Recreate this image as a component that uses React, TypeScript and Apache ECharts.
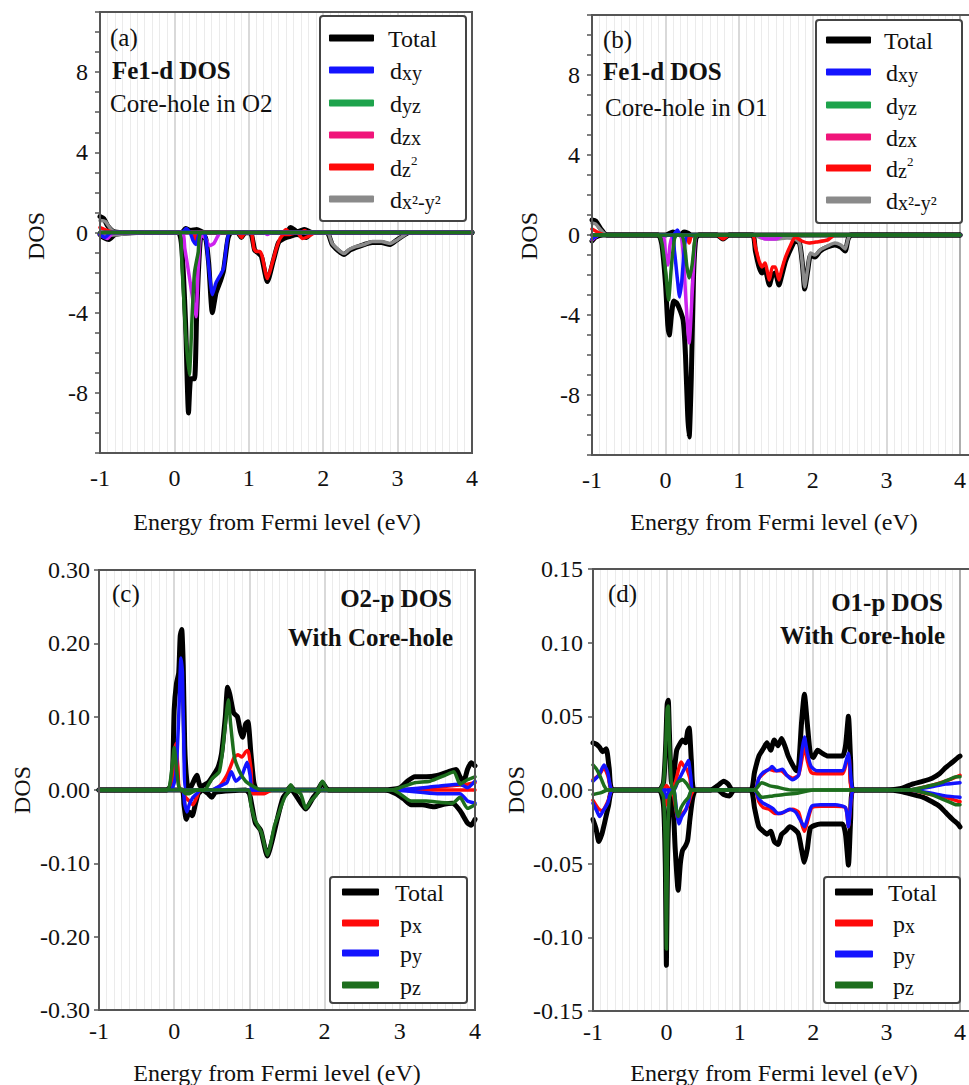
import React, { useEffect, useRef } from "react";
import * as echarts from "echarts";

const FONT = "'Liberation Serif','Times New Roman',serif";

// ---------- Panel (a): Fe1-d DOS, core-hole in O2 ----------
const aTotalUp = [[-1,0.8],[-0.95,0.7],[-0.9,0.35],[-0.82,0.05],[-0.7,0],[0.1,0],[0.15,0.2],[0.22,0.1],[0.3,0.15],[0.4,0],[1.5,0],[1.56,0.25],[1.65,0.05],[1.75,0.15],[1.85,0],[4,0]];
const aTotalDn = [[-1,-0.1],[-0.95,-0.25],[-0.88,-0.35],[-0.8,-0.1],[-0.7,-0.05],[-0.5,0],[0.05,0],[0.1,-0.8],[0.15,-4.5],[0.19,-9.0],[0.22,-7.3],[0.27,-7.3],[0.3,-4.0],[0.35,-0.3],[0.41,-0.2],[0.46,-1.5],[0.51,-4.0],[0.56,-3.0],[0.62,-2.4],[0.66,-1.9],[0.72,-0.3],[0.76,0],[0.85,0],[0.9,-0.25],[0.95,0],[1.03,-0.05],[1.08,-0.9],[1.12,-1.0],[1.17,-1.2],[1.25,-2.45],[1.33,-1.4],[1.4,-0.5],[1.47,-0.3],[1.55,-0.2],[1.65,-0.1],[1.77,-0.25],[1.85,0],[2.05,0],[2.12,-0.6],[2.2,-0.9],[2.28,-1.1],[2.35,-0.9],[2.44,-0.75],[2.55,-0.6],[2.66,-0.5],[2.78,-0.5],[2.9,-0.6],[2.98,-0.4],[3.1,-0.1],[3.15,0],[4,0]];
const aDxyUp = [[-1,0],[0.1,0],[0.16,0.2],[0.22,0],[4,0]];
const aDxyDn = [[-1,-0.1],[-0.93,-0.25],[-0.85,0],[0.2,0],[0.25,-0.4],[0.29,-0.6],[0.33,-0.1],[0.4,0],[0.43,-0.5],[0.47,-2.0],[0.51,-3.1],[0.56,-2.5],[0.62,-2.1],[0.66,-1.8],[0.71,-0.4],[0.75,0],[4,0]];
const aDyzUp = [[-1,0],[4,0]];
const aDyzDn = [[-1,0],[0.06,0],[0.1,-1.5],[0.15,-5.0],[0.2,-7.1],[0.24,-4.0],[0.27,-2.0],[0.32,-1.0],[0.37,0],[4,0]];
const aDzxUp = [[-1,0],[4,0]];
const aDzxDn = [[-1,-0.1],[-0.9,-0.3],[-0.82,0],[0.1,0],[0.14,-0.8],[0.2,-2.2],[0.25,-3.4],[0.29,-4.2],[0.32,-1.8],[0.36,-0.1],[0.42,-0.3],[0.47,-0.65],[0.53,-0.55],[0.58,-0.2],[0.62,0],[1.2,0],[1.25,-0.1],[1.3,0],[4,0]];
const aDz2Up = [[-1,0.25],[-0.9,0.1],[-0.8,0],[1.45,0],[1.5,0.15],[1.55,0],[1.7,0],[1.75,0.1],[1.8,0],[4,0]];
const aDz2Dn = [[-1,0],[0.25,0],[0.28,-0.4],[0.31,0],[0.85,0],[0.9,-0.25],[0.95,0],[1.03,0],[1.07,-0.8],[1.1,-0.95],[1.15,-0.95],[1.18,-1.2],[1.25,-2.3],[1.31,-1.6],[1.37,-0.8],[1.42,-0.3],[1.47,-0.1],[1.55,-0.1],[1.65,0],[1.72,-0.3],[1.8,-0.2],[1.9,0],[4,0]];
const aDx2Up = [[-1,0.6],[-0.93,0.55],[-0.85,0.15],[-0.78,0],[4,0]];
const aDx2Dn = [[-1,0],[-0.9,-0.15],[-0.75,-0.1],[-0.6,-0.05],[-0.4,0],[2.05,0],[2.12,-0.55],[2.2,-0.85],[2.28,-1.05],[2.35,-0.85],[2.44,-0.7],[2.55,-0.6],[2.66,-0.45],[2.78,-0.45],[2.9,-0.55],[2.98,-0.4],[3.1,-0.1],[3.15,0],[4,0]];

// ---------- Panel (b): Fe1-d DOS, core-hole in O1 ----------
const bTotalUp = [[-1,0.75],[-0.95,0.7],[-0.88,0.3],[-0.8,0],[0.0,0],[0.1,0.15],[0.2,0],[0.25,0.15],[0.3,0.1],[0.35,0],[4,0]];
const bTotalDn = [[-1,-0.3],[-0.95,-0.1],[-0.85,0],[-0.1,0],[-0.05,-0.5],[0.0,-2.5],[0.03,-4.5],[0.05,-5.0],[0.08,-4.0],[0.11,-3.3],[0.15,-3.4],[0.2,-3.8],[0.24,-4.3],[0.27,-6.0],[0.3,-9.0],[0.32,-10.1],[0.35,-7.0],[0.38,-2.0],[0.41,-0.2],[0.45,0],[0.7,0],[0.78,-0.2],[0.86,0],[1.18,0],[1.22,-0.8],[1.27,-1.6],[1.31,-1.9],[1.35,-1.7],[1.41,-2.5],[1.45,-2.0],[1.49,-1.9],[1.54,-2.5],[1.58,-2.0],[1.63,-1.3],[1.7,-0.7],[1.76,-0.3],[1.82,-0.4],[1.86,-1.5],[1.89,-2.7],[1.93,-1.8],[1.97,-1.0],[2.03,-1.1],[2.1,-0.8],[2.2,-0.6],[2.3,-0.5],[2.38,-0.6],[2.44,-0.8],[2.48,-0.2],[2.52,0],[4,0]];
const bDxyUp = [[-1,0],[0.1,0],[0.16,0.25],[0.2,0],[4,0]];
const bDxyDn = [[-1,-0.2],[-0.9,0],[0.08,0],[0.12,-0.8],[0.16,-2.2],[0.19,-3.1],[0.22,-2.3],[0.26,-0.5],[0.3,0],[4,0]];
const bDyzUp = [[-1,0],[4,0]];
const bDyzDn = [[-1,0],[-0.1,0],[-0.05,-0.4],[0.0,-1.8],[0.04,-3.25],[0.08,-1.5],[0.12,-0.2],[0.15,0],[0.22,0],[0.26,-0.6],[0.29,-1.6],[0.32,-2.15],[0.36,-1.5],[0.4,-0.2],[0.43,0],[4,0]];
const bDzxUp = [[-1,0],[4,0]];
const bDzxDn = [[-1,-0.25],[-0.9,0],[-0.05,0],[0.0,-1.0],[0.03,-1.5],[0.06,-0.5],[0.1,0],[0.2,0],[0.24,-1.0],[0.28,-3.5],[0.32,-5.4],[0.36,-3.0],[0.4,-0.3],[0.43,0],[1.25,0],[1.35,-0.2],[1.5,-0.2],[1.6,0],[4,0]];
const bDz2Up = [[-1,0.3],[-0.9,0.1],[-0.8,0],[4,0]];
const bDz2Dn = [[-1,0],[0.28,0],[0.32,-0.4],[0.36,0],[0.7,0],[0.78,-0.2],[0.86,0],[1.18,0],[1.22,-0.6],[1.27,-1.3],[1.31,-1.6],[1.35,-1.4],[1.41,-2.25],[1.45,-1.6],[1.49,-1.6],[1.54,-2.25],[1.58,-1.7],[1.63,-1.1],[1.7,-0.5],[1.76,-0.1],[1.85,-0.3],[1.95,-0.4],[2.05,-0.35],[2.2,-0.25],[2.3,0],[4,0]];
const bDx2Up = [[-1,0.6],[-0.95,0.55],[-0.88,0.25],[-0.8,0],[4,0]];
const bDx2Dn = [[-1,0],[1.2,0],[1.3,-0.15],[1.5,-0.2],[1.65,-0.15],[1.76,-0.2],[1.82,-0.4],[1.86,-1.5],[1.89,-2.6],[1.93,-1.7],[1.97,-0.9],[2.03,-1.0],[2.1,-0.75],[2.2,-0.55],[2.3,-0.4],[2.38,-0.5],[2.44,-0.7],[2.48,-0.2],[2.52,0],[4,0]];

// ---------- Panel (c): O2-p DOS with core-hole ----------
const cTotalUp = [[-1,0],[-0.1,0],[-0.05,0.005],[-0.02,0.03],[0.0,0.11],[0.03,0.145],[0.06,0.16],[0.08,0.21],[0.1,0.219],[0.12,0.17],[0.14,0.06],[0.17,0.01],[0.2,0.0],[0.25,0.01],[0.3,0.02],[0.35,0.005],[0.45,0.01],[0.52,0.02],[0.58,0.03],[0.63,0.05],[0.68,0.1],[0.71,0.14],[0.74,0.13],[0.79,0.105],[0.84,0.1],[0.88,0.08],[0.91,0.072],[0.95,0.09],[0.98,0.093],[1.02,0.05],[1.06,0.01],[1.1,0],[1.5,0],[1.55,0.005],[1.6,0],[1.9,0],[1.97,0.01],[2.05,0],[2.8,0],[3.0,0.003],[3.1,0.012],[3.2,0.018],[3.35,0.018],[3.5,0.02],[3.65,0.025],[3.75,0.028],[3.8,0.018],[3.85,0.012],[3.9,0.028],[3.95,0.037],[4.0,0.033]];
const cTotalDn = [[-1,0],[0.1,0],[0.13,-0.02],[0.16,-0.04],[0.2,-0.03],[0.24,-0.035],[0.28,-0.02],[0.32,-0.005],[0.38,0],[0.45,-0.005],[0.5,-0.01],[0.55,-0.003],[0.95,0],[1.0,-0.005],[1.04,-0.025],[1.08,-0.045],[1.15,-0.055],[1.24,-0.09],[1.3,-0.07],[1.37,-0.04],[1.45,-0.01],[1.55,0],[1.7,-0.02],[1.75,-0.026],[1.85,-0.01],[1.95,0],[2.8,0],[2.95,-0.005],[3.05,-0.012],[3.15,-0.02],[3.3,-0.02],[3.45,-0.023],[3.6,-0.019],[3.7,-0.018],[3.8,-0.028],[3.9,-0.045],[3.95,-0.048],[4.0,-0.04]];
const cPxUp = [[-1,0],[-0.05,0],[0.0,0.05],[0.02,0.063],[0.05,0.03],[0.08,0],[0.5,0],[0.6,0.005],[0.7,0.02],[0.76,0.035],[0.8,0.045],[0.85,0.048],[0.9,0.045],[0.95,0.052],[0.98,0.054],[1.02,0.03],[1.06,0],[2.9,0],[3.9,0.008],[4,0.01]];
const cPxDn = [[-1,0],[0.1,0],[0.15,-0.01],[0.2,-0.015],[0.25,-0.02],[0.3,-0.01],[0.35,0],[1.0,0],[1.05,-0.005],[1.2,-0.005],[1.3,0],[4,0]];
const cPyUp = [[-1,0],[-0.05,0],[0.02,0.02],[0.06,0.1],[0.09,0.18],[0.11,0.16],[0.13,0.05],[0.16,0],[0.5,0],[0.6,0.005],[0.7,0.01],[0.76,0.025],[0.82,0.012],[0.9,0.02],[0.97,0.038],[1.01,0.02],[1.05,0],[2.9,0],[3.5,0.005],[3.8,0.008],[3.9,0.003],[4.0,0.012]];
const cPyDn = [[-1,0],[0.1,0],[0.14,-0.02],[0.17,-0.03],[0.2,-0.02],[0.25,-0.01],[0.3,-0.005],[0.35,0],[2.9,0],[3.5,-0.005],[3.8,-0.005],[3.9,-0.015],[4.0,-0.018]];
const cPzUp = [[-1,0],[-0.1,0],[-0.03,0.03],[0.0,0.058],[0.03,0.03],[0.06,0.005],[0.1,0],[0.4,0],[0.5,0.015],[0.6,0.025],[0.65,0.06],[0.7,0.11],[0.72,0.123],[0.75,0.09],[0.8,0.045],[0.87,0.025],[0.95,0.012],[1.05,0.005],[1.15,0],[1.5,0],[1.55,0.007],[1.6,0],[1.9,0],[1.97,0.012],[2.05,0],[2.9,0],[3.0,0.003],[3.2,0.01],[3.4,0.012],[3.6,0.02],[3.72,0.025],[3.8,0.008],[3.9,0.014],[4.0,0.018]];
const cPzDn = [[-1,0],[0.1,0],[0.15,-0.005],[0.2,-0.005],[0.3,0],[0.98,0],[1.02,-0.02],[1.07,-0.04],[1.12,-0.05],[1.16,-0.058],[1.2,-0.075],[1.24,-0.089],[1.28,-0.075],[1.33,-0.05],[1.38,-0.035],[1.43,-0.02],[1.48,-0.008],[1.56,0],[1.68,-0.005],[1.75,-0.025],[1.82,-0.015],[1.88,-0.008],[1.95,0],[2.9,0],[3.0,-0.005],[3.15,-0.015],[3.35,-0.015],[3.55,-0.017],[3.7,-0.018],[3.8,-0.01],[3.9,-0.025],[4.0,-0.02]];

// ---------- Panel (d): O1-p DOS with core-hole ----------
const dTotalUp = [[-1,0.032],[-0.95,0.031],[-0.91,0.029],[-0.87,0.026],[-0.82,0.028],[-0.78,0.015],[-0.73,0],[-0.1,0],[-0.04,0.005],[-0.01,0.03],[0.01,0.058],[0.025,0.061],[0.04,0.04],[0.07,0.005],[0.1,0.01],[0.14,0.027],[0.18,0.031],[0.22,0.034],[0.26,0.032],[0.29,0.04],[0.31,0.042],[0.34,0.02],[0.38,0],[0.6,0],[0.7,0.003],[0.78,0.006],[0.84,0.004],[0.9,0],[1.15,0],[1.2,0.012],[1.26,0.023],[1.32,0.028],[1.37,0.032],[1.42,0.027],[1.47,0.034],[1.52,0.03],[1.57,0.035],[1.62,0.029],[1.66,0.023],[1.72,0.017],[1.77,0.013],[1.8,0.015],[1.84,0.045],[1.88,0.065],[1.92,0.045],[1.96,0.025],[2.0,0.022],[2.06,0.027],[2.12,0.025],[2.2,0.023],[2.3,0.023],[2.4,0.023],[2.44,0.03],[2.48,0.05],[2.51,0.02],[2.54,0],[3.0,0],[3.2,0.001],[3.35,0.004],[3.5,0.006],[3.62,0.008],[3.72,0.011],[3.8,0.015],[3.9,0.019],[3.97,0.022],[4.0,0.023]];
const dTotalDn = [[-1,-0.02],[-0.96,-0.026],[-0.92,-0.035],[-0.88,-0.03],[-0.85,-0.024],[-0.79,-0.011],[-0.73,0],[-0.1,0],[-0.04,-0.01],[-0.015,-0.05],[0.0,-0.119],[0.015,-0.05],[0.04,-0.01],[0.08,-0.005],[0.12,-0.04],[0.16,-0.068],[0.19,-0.05],[0.22,-0.041],[0.26,-0.038],[0.29,-0.034],[0.32,-0.02],[0.36,-0.005],[0.4,0],[0.7,0],[0.78,-0.003],[0.86,-0.004],[0.92,0],[1.15,0],[1.2,-0.012],[1.26,-0.025],[1.32,-0.028],[1.37,-0.03],[1.42,-0.028],[1.47,-0.035],[1.52,-0.037],[1.57,-0.03],[1.62,-0.028],[1.68,-0.025],[1.75,-0.027],[1.8,-0.03],[1.84,-0.04],[1.88,-0.049],[1.92,-0.04],[1.96,-0.026],[2.02,-0.024],[2.1,-0.023],[2.2,-0.023],[2.3,-0.023],[2.4,-0.023],[2.44,-0.03],[2.48,-0.051],[2.51,-0.02],[2.54,0],[3.0,0],[3.2,-0.001],[3.35,-0.003],[3.5,-0.005],[3.62,-0.008],[3.72,-0.011],[3.8,-0.015],[3.9,-0.02],[3.97,-0.023],[4.0,-0.025]];
const dPxUp = [[-1,0.007],[-0.92,0.01],[-0.85,0.015],[-0.8,0.01],[-0.73,0],[-0.05,0],[0.0,0.003],[0.05,0],[0.12,0.005],[0.17,0.015],[0.2,0.019],[0.24,0.016],[0.28,0.014],[0.32,0.008],[0.36,0],[1.2,0],[1.26,0.008],[1.32,0.011],[1.4,0.014],[1.48,0.013],[1.56,0.013],[1.64,0.01],[1.72,0.008],[1.8,0.01],[1.85,0.022],[1.88,0.03],[1.92,0.02],[1.97,0.012],[2.05,0.011],[2.2,0.011],[2.4,0.011],[2.46,0.02],[2.49,0.022],[2.53,0],[3.3,0],[3.6,0.003],[3.8,0.006],[4.0,0.01]];
const dPxDn = [[-1,-0.007],[-0.92,-0.013],[-0.87,-0.014],[-0.8,-0.008],[-0.73,0],[-0.05,0],[0.0,-0.01],[0.03,-0.005],[0.08,0],[0.12,-0.01],[0.16,-0.02],[0.22,-0.016],[0.28,-0.012],[0.34,-0.003],[0.38,0],[1.2,0],[1.26,-0.008],[1.32,-0.012],[1.4,-0.013],[1.48,-0.016],[1.56,-0.016],[1.64,-0.014],[1.72,-0.013],[1.8,-0.015],[1.85,-0.024],[1.88,-0.028],[1.93,-0.02],[1.98,-0.012],[2.1,-0.011],[2.3,-0.011],[2.44,-0.012],[2.48,-0.025],[2.52,-0.005],[2.55,0],[3.3,0],[3.6,-0.003],[3.8,-0.005],[4.0,-0.008]];
const dPyUp = [[-1,0.006],[-0.92,0.01],[-0.85,0.017],[-0.8,0.012],[-0.73,0],[0.1,0],[0.15,0.005],[0.2,0.01],[0.26,0.016],[0.3,0.02],[0.33,0.01],[0.37,0],[1.2,0],[1.26,0.008],[1.32,0.012],[1.4,0.014],[1.44,0.016],[1.5,0.013],[1.58,0.014],[1.64,0.01],[1.72,0.007],[1.8,0.01],[1.85,0.028],[1.88,0.036],[1.92,0.025],[1.97,0.016],[2.05,0.013],[2.2,0.013],[2.4,0.013],[2.45,0.02],[2.48,0.025],[2.52,0.005],[2.55,0],[3.3,0],[3.6,0.002],[3.8,0.004],[4.0,0.005]];
const dPyDn = [[-1,-0.009],[-0.95,-0.014],[-0.91,-0.018],[-0.86,-0.014],[-0.8,-0.009],[-0.73,0],[-0.05,0],[0.0,-0.005],[0.05,0],[0.1,0],[0.14,-0.015],[0.17,-0.023],[0.21,-0.018],[0.26,-0.014],[0.3,-0.008],[0.35,0],[1.2,0],[1.26,-0.006],[1.32,-0.009],[1.4,-0.011],[1.46,-0.013],[1.52,-0.016],[1.6,-0.015],[1.68,-0.013],[1.76,-0.015],[1.82,-0.02],[1.88,-0.025],[1.93,-0.018],[1.98,-0.011],[2.1,-0.01],[2.3,-0.01],[2.44,-0.012],[2.48,-0.025],[2.52,-0.005],[2.55,0],[3.3,0],[3.6,-0.002],[3.8,-0.004],[4.0,-0.005]];
const dPzUp = [[-1,0.017],[-0.95,0.014],[-0.9,0.009],[-0.85,0.003],[-0.8,0],[-0.1,0],[-0.04,0.005],[-0.01,0.03],[0.01,0.055],[0.025,0.057],[0.04,0.035],[0.07,0.003],[0.1,0],[0.15,0.005],[0.22,0.007],[0.28,0.004],[0.34,0],[1.2,0],[1.3,0.005],[1.4,0.003],[1.5,0.002],[1.7,0],[3.3,0],[3.6,0.003],[3.75,0.005],[3.85,0.007],[3.95,0.009],[4.0,0.009]];
const dPzDn = [[-1,-0.003],[-0.9,-0.002],[-0.8,0],[-0.1,0],[-0.04,-0.005],[-0.015,-0.04],[0.0,-0.108],[0.015,-0.04],[0.04,-0.005],[0.1,0],[0.13,-0.012],[0.16,-0.018],[0.2,-0.012],[0.25,-0.008],[0.3,-0.005],[0.35,0],[1.2,0],[1.3,-0.005],[1.45,-0.004],[1.6,-0.003],[1.8,-0.002],[2.0,0],[3.3,0],[3.6,-0.003],[3.75,-0.006],[3.85,-0.008],[3.95,-0.01],[4.0,-0.01]];

// ---------- labels ----------
const dLegendRich = ["{a|Total}", "{a|d}{b|xy}", "{a|d}{b|yz}", "{a|d}{b|zx}", "{a|d}{b|z}{c|2}", "{a|d}{b|x²-y²}"];
const pLegendRich = ["{a|Total}", "{a|p}{b|x}", "{a|p}{b|y}", "{a|p}{b|z}"];
const xTitle = "Energy from Fermi level (eV)";
const yTitle = "DOS";

const C = {
  total: "#000000",
  blue: "#1414ff",
  green: "#1d6e1d",
  greenLegend: "#1ea34c",
  magenta: "#cc22ee",
  pink: "#f0157a",
  red: "#ff0a0a",
  gray: "#8a8a8a",
};

const GRIDS = [
  { left: 100, top: 12, width: 372, height: 441 },
  { left: 592, top: 15, width: 381, height: 440 },
  { left: 99, top: 570, width: 376, height: 440 },
  { left: 593, top: 569, width: 378, height: 442 },
];

function mkLine(name: string, data: number[][], color: string, width: number, gi: number, z: number) {
  return {
    type: "line",
    name,
    data,
    xAxisIndex: gi,
    yAxisIndex: gi,
    showSymbol: false,
    symbol: "none",
    smooth: 0.2,
    z,
    lineStyle: { color, width, cap: "round", join: "round" },
    itemStyle: { color },
    emphasis: { disabled: true },
  };
}

function txt(x: number, y: number, text: string, opts: any = {}) {
  return {
    type: "text",
    x,
    y,
    z: 200,
    rotation: opts.rotation || 0,
    style: {
      text,
      fill: "#111",
      fontFamily: FONT,
      fontSize: opts.fontSize || 24,
      fontWeight: opts.bold ? "bold" : "normal",
      align: opts.align || "left",
      verticalAlign: "middle",
      rich: opts.rich,
    },
  };
}

const richStyle = {
  a: { fontFamily: FONT, fontSize: 24, fill: "#111", verticalAlign: "bottom", lineHeight: 26 },
  b: { fontFamily: FONT, fontSize: 20, fill: "#111", verticalAlign: "bottom", lineHeight: 26 },
  c: { fontFamily: FONT, fontSize: 13, fill: "#111", verticalAlign: "top", lineHeight: 26 },
};

function legend(box: number[], rows: number[], swX: number, swW: number, textX: number[], labels: string[], colors: string[]) {
  const els: any[] = [
    {
      type: "rect",
      z: 150,
      shape: { x: box[0], y: box[1], width: box[2], height: box[3], r: 3 },
      style: { fill: "#fff", stroke: "#444", lineWidth: 2 },
    },
  ];
  rows.forEach((ry, i) => {
    els.push({
      type: "rect",
      z: 160,
      shape: { x: swX, y: ry - 3.5, width: swW, height: 7, r: 1 },
      style: { fill: colors[i] },
    });
    els.push(txt(textX[i], ry, labels[i], { rich: richStyle }));
  });
  return els;
}

export default function App() {
  const ref = useRef<HTMLDivElement>(null);
  useEffect(() => {
    if (!ref.current) return;
    const chart = echarts.init(ref.current, null, { renderer: "svg" });

    const xAxes = GRIDS.map((_, i) => ({
      type: "value",
      gridIndex: i,
      min: -1,
      max: 4,
      interval: 1,
      axisLine: { show: true, onZero: false, lineStyle: { color: "#555", width: 2 } },
      axisTick: { show: false },
      minorTick: { show: false, splitNumber: 10 },
      splitLine: { show: true, lineStyle: { color: "#cdcdcd", width: 1.5 } },
      minorSplitLine: { show: true, lineStyle: { color: "#ebebeb", width: 1 } },
      axisLabel: { fontFamily: FONT, fontSize: 24, color: "#111", margin: i < 2 ? 13 : 9 },
    }));

    const yBase = (i: number) => ({
      type: "value",
      gridIndex: i,
      axisLine: { show: true, onZero: false, lineStyle: { color: "#555", width: 2 } },
      axisTick: { show: true, inside: false, length: 5, lineStyle: { color: "#555", width: 1.5 } },
      splitLine: { show: false },
    });
    const yAxes = [
      { ...yBase(0), min: -11, max: 11, interval: 1,
        axisLabel: { fontFamily: FONT, fontSize: 24, color: "#111", margin: 12,
          formatter: (v: number) => (Math.round(v) % 4 === 0 ? String(Math.round(v)) : "") } },
      { ...yBase(1), min: -11, max: 11, interval: 1,
        axisLabel: { fontFamily: FONT, fontSize: 24, color: "#111", margin: 12,
          formatter: (v: number) => (Math.round(v) % 4 === 0 ? String(Math.round(v)) : "") } },
      { ...yBase(2), min: -0.3, max: 0.3, interval: 0.1,
        axisLabel: { fontFamily: FONT, fontSize: 24, color: "#111", margin: 9,
          formatter: (v: number) => v.toFixed(2) } },
      { ...yBase(3), min: -0.15, max: 0.15, interval: 0.05,
        axisLabel: { fontFamily: FONT, fontSize: 24, color: "#111", margin: 10,
          formatter: (v: number) => v.toFixed(2) } },
    ];

    const series: any[] = [];
    const addD = (gi: number, sets: number[][][][]) => {
      const spec = [
        ["Total", C.total, 5],
        ["dx²-y²", C.gray, 3.5],
        ["dz²", C.red, 3.5],
        ["dzx", C.magenta, 3.5],
        ["dxy", C.blue, 3.5],
        ["dyz", C.green, 3.5],
      ];
      sets.forEach((pair, k) => {
        const [nm, col, w] = spec[k] as [string, string, number];
        series.push(mkLine(nm, pair[0], col, w, gi, 2 + k));
        series.push(mkLine(nm, pair[1], col, w, gi, 2 + k));
      });
    };
    addD(0, [[aTotalUp, aTotalDn], [aDx2Up, aDx2Dn], [aDz2Up, aDz2Dn], [aDzxUp, aDzxDn], [aDxyUp, aDxyDn], [aDyzUp, aDyzDn]]);
    addD(1, [[bTotalUp, bTotalDn], [bDx2Up, bDx2Dn], [bDz2Up, bDz2Dn], [bDzxUp, bDzxDn], [bDxyUp, bDxyDn], [bDyzUp, bDyzDn]]);
    const addP = (gi: number, sets: number[][][][]) => {
      const spec = [
        ["Total", C.total, 5],
        ["px", C.red, 3.5],
        ["py", C.blue, 3.5],
        ["pz", C.green, 3.5],
      ];
      sets.forEach((pair, k) => {
        const [nm, col, w] = spec[k] as [string, string, number];
        series.push(mkLine(nm, pair[0], col, w, gi, 2 + k));
        series.push(mkLine(nm, pair[1], col, w, gi, 2 + k));
      });
    };
    addP(2, [[cTotalUp, cTotalDn], [cPxUp, cPxDn], [cPyUp, cPyDn], [cPzUp, cPzDn]]);
    addP(3, [[dTotalUp, dTotalDn], [dPxUp, dPxDn], [dPyUp, dPyDn], [dPzUp, dPzDn]]);

    const dColors = [C.total, C.blue, C.greenLegend, C.pink, C.red, C.gray];
    const pColors = [C.total, C.red, C.blue, C.green];

    const frames = GRIDS.map((g) => ({
      type: "rect",
      z: 120,
      silent: true,
      shape: { x: g.left, y: g.top, width: g.width, height: g.height },
      style: { fill: "none", stroke: "#555", lineWidth: 2 },
    }));

    const graphic: any[] = [
      ...frames,
      // panel titles
      txt(110, 37, "(a)", { fontSize: 25 }),
      txt(112, 70, "Fe1-d DOS", { bold: true, fontSize: 25 }),
      txt(110, 103, "Core-hole in O2", { fontSize: 25 }),
      txt(603, 39, "(b)", { fontSize: 25 }),
      txt(603, 71, "Fe1-d DOS", { bold: true, fontSize: 25 }),
      txt(605, 107, "Core-hole in O1", { fontSize: 25 }),
      txt(112, 593, "(c)", { fontSize: 25 }),
      txt(452, 598, "O2-p DOS", { bold: true, align: "right", fontSize: 25 }),
      txt(453, 637, "With Core-hole", { bold: true, align: "right", fontSize: 25 }),
      txt(608, 593, "(d)", { fontSize: 25 }),
      txt(943, 602, "O1-p DOS", { bold: true, align: "right", fontSize: 25 }),
      txt(945, 635, "With Core-hole", { bold: true, align: "right", fontSize: 25 }),
      // axis titles
      txt(36, 236, yTitle, { rotation: Math.PI / 2, align: "center" }),
      txt(529, 236, yTitle, { rotation: Math.PI / 2, align: "center" }),
      txt(22, 790, yTitle, { rotation: Math.PI / 2, align: "center" }),
      txt(516, 790, yTitle, { rotation: Math.PI / 2, align: "center" }),
      txt(277, 522, xTitle, { align: "center" }),
      txt(774, 522, xTitle, { align: "center" }),
      txt(277, 1073, xTitle, { align: "center" }),
      txt(774, 1073, xTitle, { align: "center" }),
      // legends
      ...legend([320, 16, 146, 205], [38, 70, 103, 135, 167, 199], 329, 45, [388, 390, 390, 390, 390, 390], dLegendRich, dColors),
      ...legend([816, 20, 146, 203], [40, 72, 105, 137, 168, 200], 826, 45, [884, 886, 886, 886, 886, 886], dLegendRich, dColors),
      ...legend([330, 877, 137, 126], [892, 923, 953, 985], 342, 37, [395, 400, 400, 400], pLegendRich, pColors),
      ...legend([824, 877, 136, 126], [892, 923, 954, 985], 835, 38, [888, 893, 893, 893], pLegendRich, pColors),
    ];

    chart.setOption({
      animation: false,
      backgroundColor: "#ffffff",
      textStyle: { fontFamily: FONT },
      grid: GRIDS.map((g) => ({ ...g, show: true, borderColor: "#555", borderWidth: 2, backgroundColor: "#fff", containLabel: false })),
      xAxis: xAxes,
      yAxis: yAxes,
      series,
      graphic,
    });
    return () => chart.dispose();
  }, []);

  return (
    <div
      ref={ref}
      style={{ position: "absolute", left: 0, top: 0, width: 969, height: 1085, background: "#fff" }}
    />
  );
}
